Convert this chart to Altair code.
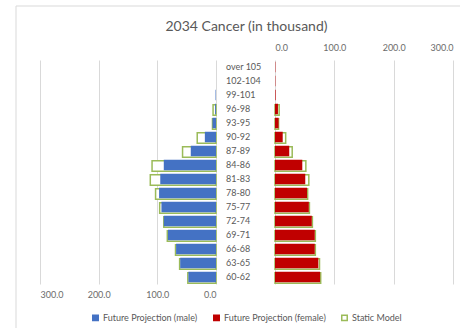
import altair as alt
import pandas as pd

ages = ["over 105", "102-104", "99-101", "96-98", "93-95", "90-92", "87-89", "84-86",
        "81-83", "78-80", "75-77", "72-74", "69-71", "66-68", "63-65", "60-62"]
male = [0, 0, 0.8, 1.5, 6, 19, 43, 89, 95, 97, 93, 89, 82, 68, 61, 47]
male_static = [0, 0, 0, 5, 6, 32, 57, 109, 112, 103, 96, 89, 83, 69, 62, 48]
female = [0.6, 0.6, 1, 5, 6, 13, 24, 46, 51, 54, 57, 62, 67, 67, 73, 76]
female_static = [0, 0, 0, 7, 6, 18, 29, 52, 57, 55, 58, 63, 68, 68, 75, 77]
ticks = [0, 100, 200, 300]

S_M = "Future Projection (male)"
S_F = "Future Projection (female)"
S_S = "Static Model"

BLUE = "#4472C4"
RED = "#C00000"
GREEN = "#9BBB59"
GRAY = "#595959"
FONT = "Lato"

df_m = pd.DataFrame({"age": ages, "v": male, "series": S_M})
df_ms = pd.DataFrame({"age": ages, "v": male_static, "series": S_S})
df_f = pd.DataFrame({"age": ages, "v": female, "series": S_F})
df_fs = pd.DataFrame({"age": ages, "v": female_static, "series": S_S})
df_lab = pd.DataFrame({"age": ages})

W, H = 413, 224

yenc = alt.Y("age:N", sort=ages, axis=None,
             scale=alt.Scale(paddingInner=0.25, paddingOuter=0.125))

legend = alt.Legend(title=None, orient="none", direction="horizontal",
                    legendX=51, legendY=253, symbolType="square", symbolSize=30,
                    symbolStrokeWidth=1.5, labelFont=FONT, labelFontSize=9,
                    labelColor=GRAY, columnPadding=12, labelOffset=3)
dom = [S_M, S_F, S_S]
fill = alt.Fill("series:N", scale=alt.Scale(domain=dom, range=[BLUE, RED, "#ffffff"]),
                legend=legend)
stroke = alt.Stroke("series:N", scale=alt.Scale(domain=dom, range=[BLUE, RED, GREEN]),
                    legend=legend)

def xaxis(orient, pad):
    return alt.Axis(orient=orient, values=ticks, format=".1f", domain=False, ticks=False,
                    tickSize=0, labelPadding=pad, grid=True, gridColor="#D9D9D9",
                    labelFont=FONT, labelFontSize=9, labelColor="#6b6b6b", title=None)

xl = alt.X("v:Q", scale=alt.Scale(domain=[0, 300], range=[176, 0]), axis=xaxis("bottom", 6))
xr = alt.X("v:Q", scale=alt.Scale(domain=[0, 300], range=[235, 413]), axis=xaxis("top", 8))

left = alt.layer(
    alt.Chart(df_ms).mark_bar(strokeWidth=1.5, yOffset=1).encode(
        x=xl, y=yenc, fill=fill, stroke=stroke).transform_filter("datum.v > 0"),
    alt.Chart(df_m).mark_bar(strokeWidth=0).encode(
        x=xl, y=yenc, fill=fill, stroke=stroke).transform_filter("datum.v > 0"),
    alt.Chart(df_lab).mark_text(align="left", baseline="middle", font=FONT, fontSize=9,
                                color=GRAY).encode(x=alt.value(186), y=yenc, text="age:N"),
)
right = alt.layer(
    alt.Chart(df_fs).mark_bar(strokeWidth=1.5, yOffset=1).encode(
        x=xr, y=yenc, fill=fill, stroke=stroke).transform_filter("datum.v > 0"),
    alt.Chart(df_f).mark_bar(strokeWidth=0).encode(
        x=xr, y=yenc, fill=fill, stroke=stroke).transform_filter("datum.v > 0"),
)

frame = alt.Chart(pd.DataFrame({"a": [0]})).mark_rect(
    fillOpacity=0, stroke="#D9D9D9", strokeWidth=1
).encode(x=alt.value(-24), x2=alt.value(430), y=alt.value(-54), y2=alt.value(280))

chart = alt.layer(frame, left, right).resolve_scale(x="independent").properties(
    width=W, height=H,
    title=alt.TitleParams("2034 Cancer (in thousand)", font=FONT, fontSize=14,
                          fontWeight="normal", color=GRAY, anchor="middle", offset=6, dy=34),
    autosize=alt.AutoSizeParams(type="none"),
    padding={"left": 40, "top": 60, "right": 7, "bottom": 44},
).configure_view(stroke=None)

chart.save("out.html", embed_options={"renderer": "svg", "actions": False})
